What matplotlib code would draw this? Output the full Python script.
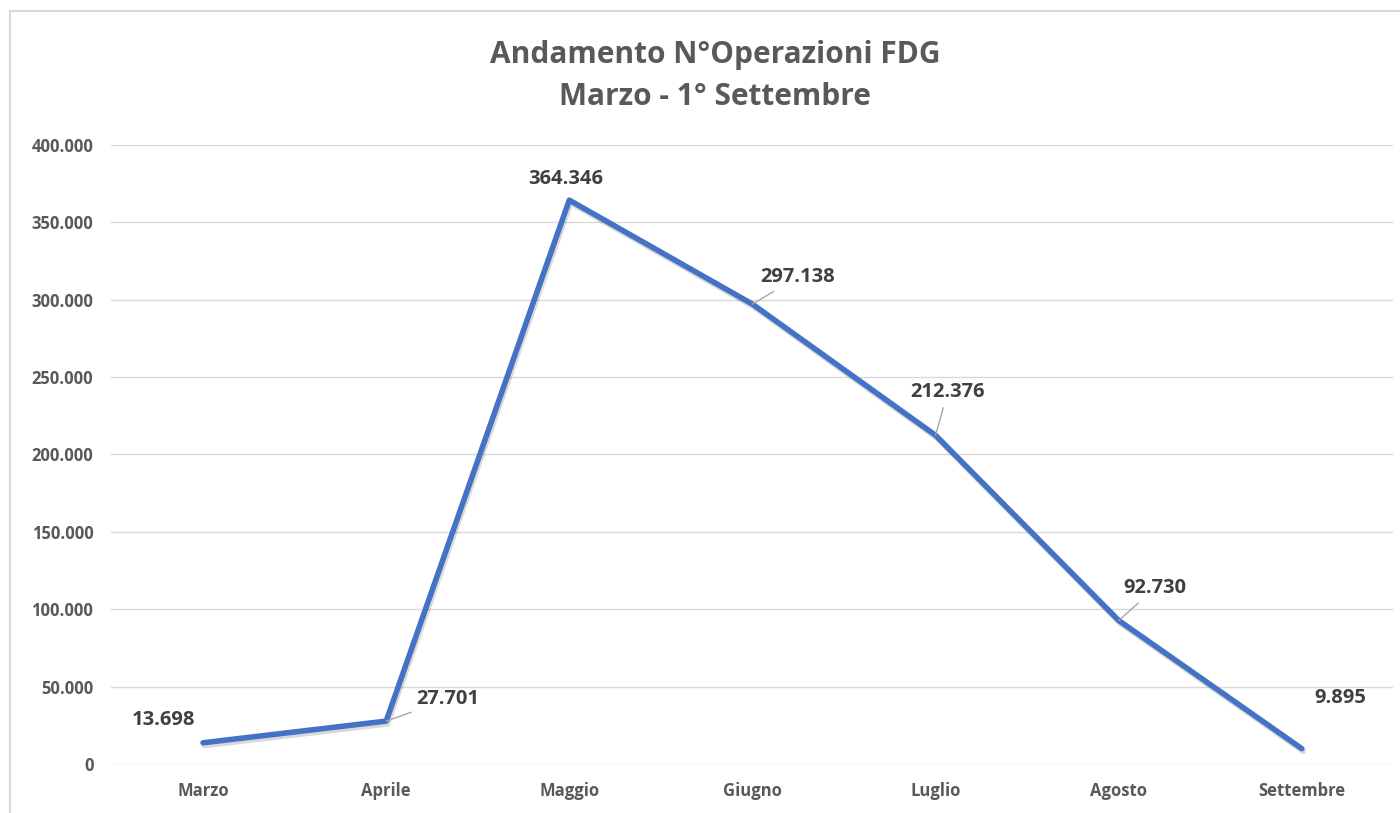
import matplotlib

matplotlib.use("Agg")
import matplotlib.pyplot as plt
import matplotlib.patheffects as pe
from matplotlib.lines import Line2D
from matplotlib.ticker import FuncFormatter

# data
months = ["Marzo", "Aprile", "Maggio", "Giugno", "Luglio", "Agosto", "Settembre"]
operations = [13698, 27701, 364346, 297138, 212376, 92730, 9895]
label_texts = ["13.698", "27.701", "364.346", "297.138", "212.376", "92.730", "9.895"]
yticks = [0, 50000, 100000, 150000, 200000, 250000, 300000, 350000, 400000]

# label offsets in pixels from the point, and whether a leader line is drawn
label_offsets = [(-40, 23), (62, 22), (-4, 21), (45, 27), (12, 43), (36, 32), (38, 51)]
leaders = [False, True, False, True, True, True, False]

BLUE = "#4472C4"
GREY_TXT = "#595959"
GRID = "#D9D9D9"

plt.rcParams["font.family"] = ["Open Sans", "DejaVu Sans"]

fig = plt.figure(figsize=(14, 8.13), dpi=100)
ax = fig.add_axes([0.0796, 0.0603, 0.9157, 0.7614])

x = list(range(len(months)))
ax.plot(x, operations, color=BLUE, lw=4, solid_capstyle="round",
        solid_joinstyle="round", zorder=3,
        path_effects=[pe.SimpleLineShadow(offset=(1, -2), alpha=0.15, shadow_color="k"),
                      pe.Normal()])

for i, (val, txt) in enumerate(zip(operations, label_texts)):
    dx, dy = label_offsets[i]
    arrow = dict(arrowstyle="-", color="#A6A6A6", lw=1, shrinkA=2, shrinkB=0) if leaders[i] else None
    ax.annotate(txt, xy=(i, val), xytext=(dx, dy), textcoords="offset pixels",
                ha="center", va="center", fontsize=14.5, fontweight="bold",
                color="#404040", arrowprops=arrow, zorder=4)

ax.set_xlim(-0.5, len(months) - 0.5)
ax.set_ylim(0, 400000)
ax.set_yticks(yticks)
ax.yaxis.set_major_formatter(FuncFormatter(lambda v, p: f"{int(v):,}".replace(",", ".")))
ax.set_xticks(x)
ax.set_xticklabels(months)
ax.tick_params(length=0, labelsize=12, labelcolor=GREY_TXT)
ax.tick_params(axis="y", pad=13)
ax.tick_params(axis="x", pad=13)
for lab in ax.get_xticklabels() + ax.get_yticklabels():
    lab.set_fontweight("bold")

ax.grid(axis="y", color=GRID, lw=1)
ax.set_axisbelow(True)
for s in ax.spines.values():
    s.set_visible(False)

fig.text(0.511, 0.932, "Andamento N°Operazioni FDG", ha="center", va="center",
         fontsize=21.5, fontweight="bold", color=GREY_TXT)
fig.text(0.511, 0.881, "Marzo - 1° Settembre", ha="center", va="center",
         fontsize=21.5, fontweight="bold", color=GREY_TXT)

# chart frame (top and left edges visible in the crop)
fig.add_artist(Line2D([10 / 1400, 1.0], [1 - 11 / 813, 1 - 11 / 813], color=GRID, lw=1.5))
fig.add_artist(Line2D([10 / 1400, 10 / 1400], [0, 1 - 11 / 813], color=GRID, lw=1.5))

fig.savefig("out.png", dpi=100)
